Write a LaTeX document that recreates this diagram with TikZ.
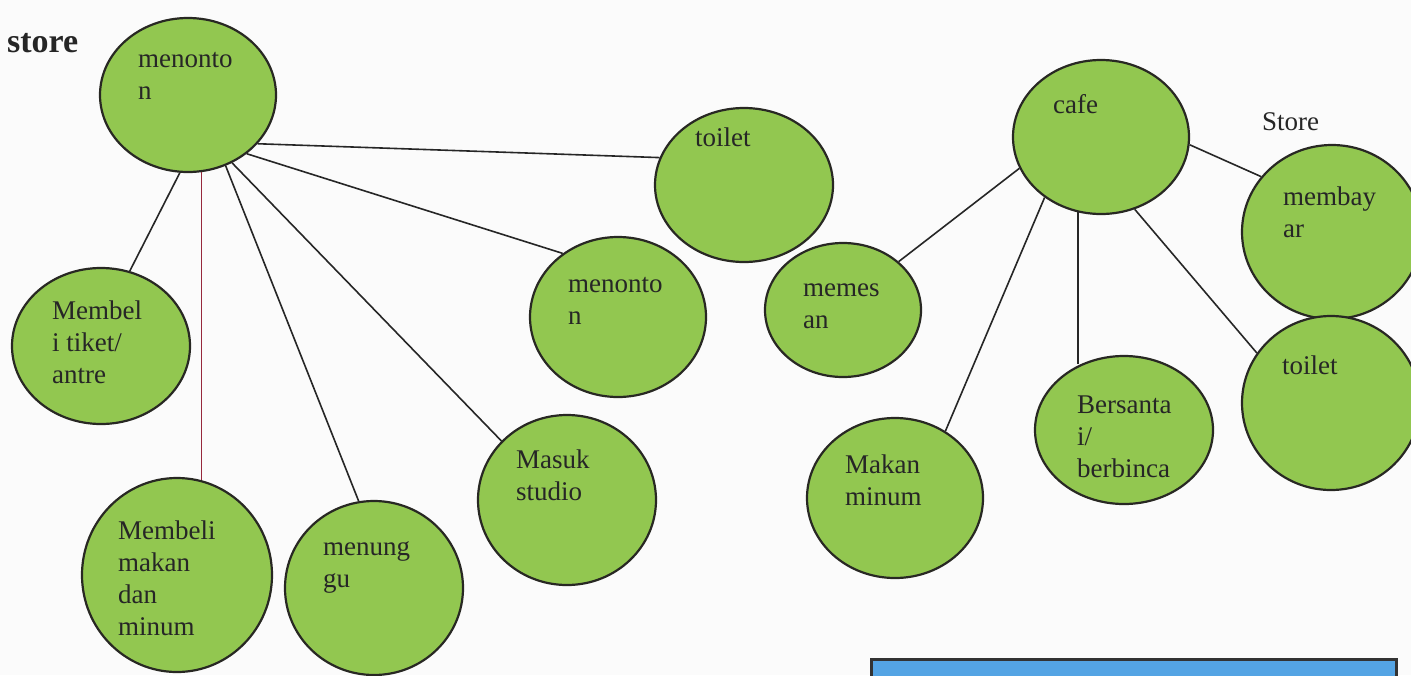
\documentclass[tikz,border=0pt]{standalone}
\usepackage{fontspec}
\setmainfont{Liberation Serif}
\usetikzlibrary{shapes.geometric}
\definecolor{bubgreen}{RGB}{146,199,80}
\definecolor{bubedge}{RGB}{40,40,35}
\definecolor{boxblue}{RGB}{84,164,228}
\definecolor{linkred}{RGB}{150,40,60}
% stacked lines whose reference point is the first baseline
\newcommand{\stk}[1]{\vtop{\def\nl{\egroup\hbox\bgroup}\hbox\bgroup#1\egroup}}
\tikzset{
  bub/.style={ellipse, draw=bubedge, line width=2.2pt, fill=bubgreen, inner sep=0pt},
  txt/.style={anchor=base west, inner sep=0pt, text=black!85,
              font=\fontsize{27}{32}\selectfont},
  link/.style={draw=black!85, line width=1.6pt},
}
\begin{document}
\begin{tikzpicture}[x=1pt, y=-1pt]
\useasboundingbox (0,0) rectangle (1411,675);
\fill[white!97!gray] (0,0) rectangle (1411,675);

% ellipses of the cinema group
\node[bub, minimum width=176pt, minimum height=154pt] (mn1) at (188,95) {};
\node[bub, minimum width=178pt, minimum height=154pt] (wc1) at (744,185) {};
\node[bub, minimum width=176pt, minimum height=160pt] (mn2) at (618,317) {};
\node[bub, minimum width=178pt, minimum height=156pt] (tk) at (101,346) {};
\node[bub, minimum width=190pt, minimum height=194pt] (mk) at (177,575) {};
\node[bub, minimum width=178pt, minimum height=174pt] (tg) at (374,588) {};
\node[bub, minimum width=178pt, minimum height=170pt] (st) at (567,500) {};

% ellipses of the cafe group
\node[bub, minimum width=176pt, minimum height=154pt] (cf) at (1101,137) {};
\node[bub, minimum width=156pt, minimum height=134pt] (ms) at (843,310) {};
\node[bub, minimum width=176pt, minimum height=160pt] (mm) at (895,498) {};
\node[bub, minimum width=178pt, minimum height=148pt] (bs) at (1124,430) {};
\node[bub, minimum width=180pt, minimum height=174pt] (by) at (1332,232) {};
\node[bub, minimum width=178pt, minimum height=174pt] (wc2) at (1331,403) {};

% connectors
\draw[link] (mn1.-35) -- (wc1.162);
\draw[link] (mn1.-45) -- (mn2.131);
\draw[link] (mn1.-96) -- (tk.69);
\draw[draw=linkred, line width=1.4pt] (mn1.-80) -- (mn1.-80 |- mk.75);
\draw[link] (mn1.-62) -- (tg.100);
\draw[link] (mn1.-57) -- (st.138);

\draw[link] (cf.201) -- (ms.41);
\draw[link] (cf.-133) -- (mm.53);
\draw[link] (cf.-107) -- (cf.-107 |- bs.123);
\draw[link] (cf.-65) -- (wc2.146);
\draw[link] (cf.-5) -- (by.142);

% labels
\node[txt, font=\bfseries\fontsize{34}{40}\selectfont] (ttl) at (7,52) {store};
\node[txt] (lstore) at (1262,130) {Store};
\node[txt] (lmn1) at (138,67) {\stk{menonto\nl n}};
\node[txt] (lwc1) at (695,146) {toilet};
\node[txt] (lmn2) at (568,292) {\stk{menonto\nl n}};
\node[txt] (ltk) at (52,319) {\stk{Membel\nl i tiket/\nl antre}};
\node[txt] (lmk) at (118,539) {\stk{Membeli\nl makan\nl dan\nl minum}};
\node[txt] (ltg) at (323,555) {\stk{menung\nl gu}};
\node[txt] (lst) at (516,468) {\stk{Masuk\nl studio}};
\node[txt] (lcf) at (1053,113) {cafe};
\node[txt] (lms) at (803,296) {\stk{memes\nl an}};
\node[txt] (lmm) at (845,473) {\stk{Makan\nl minum}};
\node[txt] (lbs) at (1077,413) {\stk{Bersanta\nl i/\nl berbinca}};
\node[txt] (lby) at (1283,205) {\stk{membay\nl ar}};
\node[txt] (lwc2) at (1282,374) {toilet};

% blue panel cut by the lower edge
\draw[draw=black!80, line width=3pt, fill=boxblue] (871,659) rectangle (1396,690);
\end{tikzpicture}
\end{document}
